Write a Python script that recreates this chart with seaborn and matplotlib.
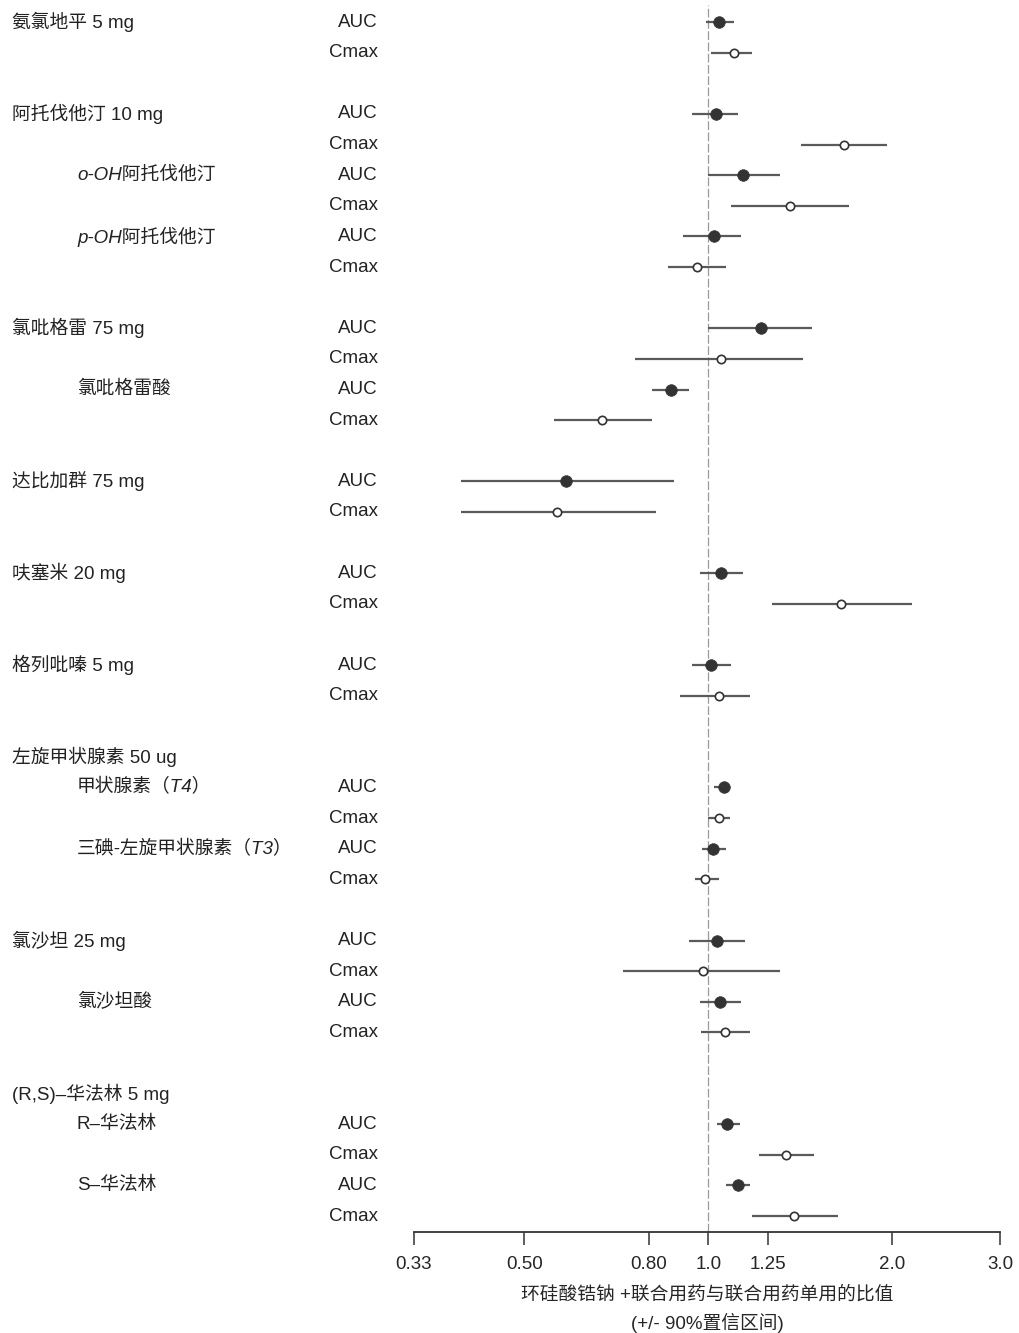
import numpy as np
import pandas as pd
import matplotlib
matplotlib.use("Agg")
import matplotlib.pyplot as plt
import matplotlib.transforms as mtransforms
import seaborn as sns

sns.set_style("white")
plt.rcParams["font.family"] = ["Liberation Sans", "Noto Sans CJK SC", "DejaVu Sans"]
plt.rcParams["axes.unicode_minus"] = False

# analytes, in plotting order
analytes = [
    "氨氯地平 5 mg", "阿托伐他汀 10 mg", "o-OH阿托伐他汀", "p-OH阿托伐他汀",
    "氯吡格雷 75 mg", "氯吡格雷酸", "达比加群 75 mg", "呋塞米 20 mg",
    "格列吡嗪 5 mg", "甲状腺素（T4）", "三碘-左旋甲状腺素（T3）",
    "氯沙坦 25 mg", "氯沙坦酸", "R–华法林", "S–华法林",
]
group_id = [0, 1, 1, 1, 2, 2, 3, 4, 5, 6, 6, 7, 7, 8, 8]
is_sub = [False, False, True, True, False, True, False, False, False,
          True, True, False, True, True, True]
is_italic = [False, False, True, True, False, True, False, False, False,
             True, True, False, True, False, False]
group_headers = {6: "左旋甲状腺素 50 ug", 8: "(R,S)–华法林 5 mg"}

# geometric mean ratios and 90% CI
auc_ratio = [1.04, 1.03, 1.14, 1.02, 1.22, 0.87, 0.585, 1.05, 1.01, 1.06, 1.016, 1.033, 1.044, 1.074, 1.12]
auc_lo = [0.99, 0.94, 1.00, 0.91, 1.00, 0.81, 0.394, 0.97, 0.94, 1.02, 0.976, 0.93, 0.97, 1.033, 1.07]
auc_hi = [1.10, 1.12, 1.31, 1.13, 1.48, 0.93, 0.88, 1.14, 1.09, 1.08, 1.07, 1.15, 1.13, 1.125, 1.17]
cmax_ratio = [1.10, 1.67, 1.36, 0.96, 1.05, 0.67, 0.565, 1.65, 1.04, 1.04, 0.988, 0.98, 1.064, 1.34, 1.38]
cmax_lo = [1.01, 1.42, 1.09, 0.86, 0.76, 0.56, 0.394, 1.27, 0.90, 1.00, 0.95, 0.726, 0.973, 1.21, 1.18]
cmax_hi = [1.18, 1.96, 1.70, 1.07, 1.43, 0.81, 0.82, 2.15, 1.17, 1.085, 1.04, 1.31, 1.17, 1.49, 1.63]

xticks = [0.33, 0.50, 0.80, 1.0, 1.25, 2.0, 3.0]
xtick_labels = ["0.33", "0.50", "0.80", "1.0", "1.25", "2.0", "3.0"]

# assign row slots: gap between groups, header row where needed
rows = []
slot = 0
prev = None
header_rows = []
for i, g in enumerate(group_id):
    if prev is not None and g != prev:
        slot += 1
    if g != prev and g in group_headers:
        header_rows.append((slot, group_headers[g]))
        slot += 1
    rows.append(slot)
    slot += 2
    prev = g

df = pd.DataFrame({
    "analyte": analytes * 2,
    "metric": ["AUC"] * len(analytes) + ["Cmax"] * len(analytes),
    "y": rows + [r + 1 for r in rows],
    "ratio": auc_ratio + cmax_ratio,
    "lo": auc_lo + cmax_lo,
    "hi": auc_hi + cmax_hi,
})

fig = plt.figure(figsize=(10.19, 13.33), dpi=100)
ax = fig.add_axes([414 / 1019, 1 - 1232 / 1333, 586 / 1019, 1227 / 1333])
ax.set_xscale("log")

ax.axvline(1.0, color="#9a9a9a", lw=0.9, ls=(0, (7, 2)), zorder=1)
ax.hlines(df["y"], df["lo"], df["hi"], color="#5a5a5a", lw=1.6, zorder=2)

sns.scatterplot(data=df[df.metric == "AUC"], x="ratio", y="y", ax=ax,
                marker="o", s=70, color="#333333", edgecolor="#333333",
                linewidth=0.5, zorder=3, legend=False)
sns.scatterplot(data=df[df.metric == "Cmax"], x="ratio", y="y", ax=ax,
                marker="o", s=36, facecolor="white", edgecolor="#333333",
                linewidth=1.2, zorder=3, legend=False)

ax.set_xlim(0.33, 3.0)
ax.set_ylim(39.52, -0.56)
ax.set_xticks(xticks)
ax.set_xticklabels(xtick_labels, fontsize=13.5)
ax.minorticks_off()
ax.xaxis.set_minor_locator(matplotlib.ticker.NullLocator())
ax.set_yticks([])
ax.set_ylabel("")
for s in ["top", "right", "left"]:
    ax.spines[s].set_visible(False)
ax.spines["bottom"].set_color("#333333")
ax.spines["bottom"].set_linewidth(1.3)
ax.tick_params(axis="x", direction="out", length=9, width=1.1, color="#333333",
               pad=8, bottom=True)
ax.set_xlabel("环硅酸锆钠 +联合用药与联合用药单用的比值\n(+/- 90%置信区间)",
              fontsize=13.5, linespacing=1.55, labelpad=10)

trans = mtransforms.blended_transform_factory(fig.transFigure, ax.transData)
for i, name in enumerate(analytes):
    xpos = 77 / 1019 if is_sub[i] else 12 / 1019
    ax.text(xpos, rows[i], name, transform=trans, ha="left", va="center",
            fontsize=13.5, style="italic" if is_italic[i] else "normal",
            color="#222222")
for r, name in header_rows:
    ax.text(12 / 1019, r, name, transform=trans, ha="left", va="center",
            fontsize=13.5, color="#222222")
for _, row in df.iterrows():
    ax.text(378 / 1019, row["y"], row["metric"], transform=trans, ha="right",
            va="center", fontsize=13.5, color="#222222")

fig.savefig("out.png", dpi=100, facecolor="white")
